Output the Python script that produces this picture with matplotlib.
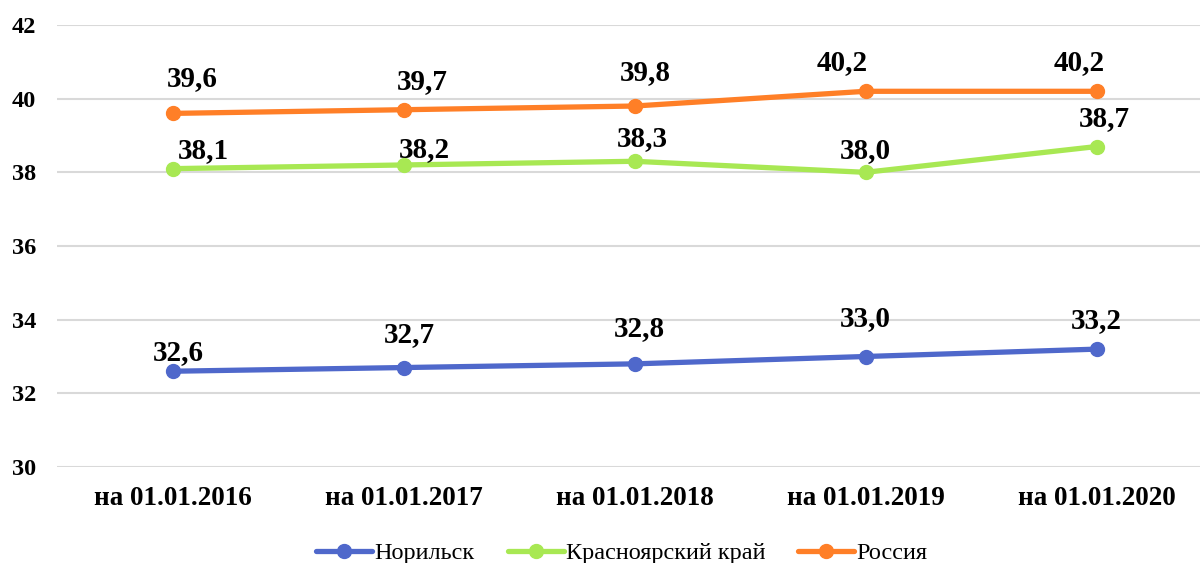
import matplotlib
matplotlib.use('Agg')
import matplotlib.pyplot as plt

categories = ['на 01.01.2016', 'на 01.01.2017', 'на 01.01.2018', 'на 01.01.2019', 'на 01.01.2020']
norilsk = [32.6, 32.7, 32.8, 33.0, 33.2]
krasnoyarsk = [38.1, 38.2, 38.3, 38.0, 38.7]
russia = [39.6, 39.7, 39.8, 40.2, 40.2]
series_names = ['Норильск', 'Красноярский край', 'Россия']

colors = ['#4F68CB', '#A8E853', '#FF7F27']
# label offsets in pixels (dx, dy) from each point, hand placed like the original
label_offsets = [
    [(6, 19), (6, 33), (5, 35), (0, 38), (0, 29)],
    [(31, 18), (21, 15), (8, 23), (0, 22), (8, 28)],
    [(20, 35), (19, 28), (11, 33), (-23, 29), (-17, 29)],
]

plt.rcParams['font.family'] = ['Liberation Serif', 'DejaVu Serif']

fig = plt.figure(figsize=(12, 5.63), dpi=100)
ax = fig.add_axes([57 / 1200, 96 / 563, 1155 / 1200, 442 / 563])

x = list(range(len(categories)))
for name, vals, col, offs in zip(series_names, [norilsk, krasnoyarsk, russia], colors, label_offsets):
    ax.plot(x, vals, color=col, linewidth=3.8, marker='o', markersize=10,
            label=name, solid_capstyle='round', zorder=3)
    for xi, v, (dx, dy) in zip(x, vals, offs):
        ax.annotate(f'{v:.1f}'.replace('.', ','), (xi, v), xytext=(dx, dy),
                    textcoords='offset pixels', ha='center', va='center',
                    fontsize=21, fontweight='bold', color='black', zorder=4)

ax.set_xlim(-0.5, 4.5)
ax.set_ylim(30, 42)
ax.set_yticks(range(30, 43, 2))
ax.set_xticks(x)
ax.set_xticklabels(categories, fontsize=19.5, fontweight='bold')
for lbl in ax.get_yticklabels():
    lbl.set_fontsize(17.5)
    lbl.set_fontweight('bold')
ax.tick_params(axis='both', length=0)
ax.tick_params(axis='y', pad=15)
ax.tick_params(axis='x', pad=14)
ax.grid(axis='y', color='#D9D9D9', linewidth=1.5)
ax.set_axisbelow(True)
for s in ax.spines.values():
    s.set_visible(False)

fig.legend(loc='center', bbox_to_anchor=(622 / 1200, 1 - 553 / 563), ncol=3, frameon=False,
           fontsize=17.5, handlelength=2.3, columnspacing=1.35, handletextpad=0.1,
           borderpad=0, borderaxespad=0)

fig.savefig('out.png', dpi=100)
